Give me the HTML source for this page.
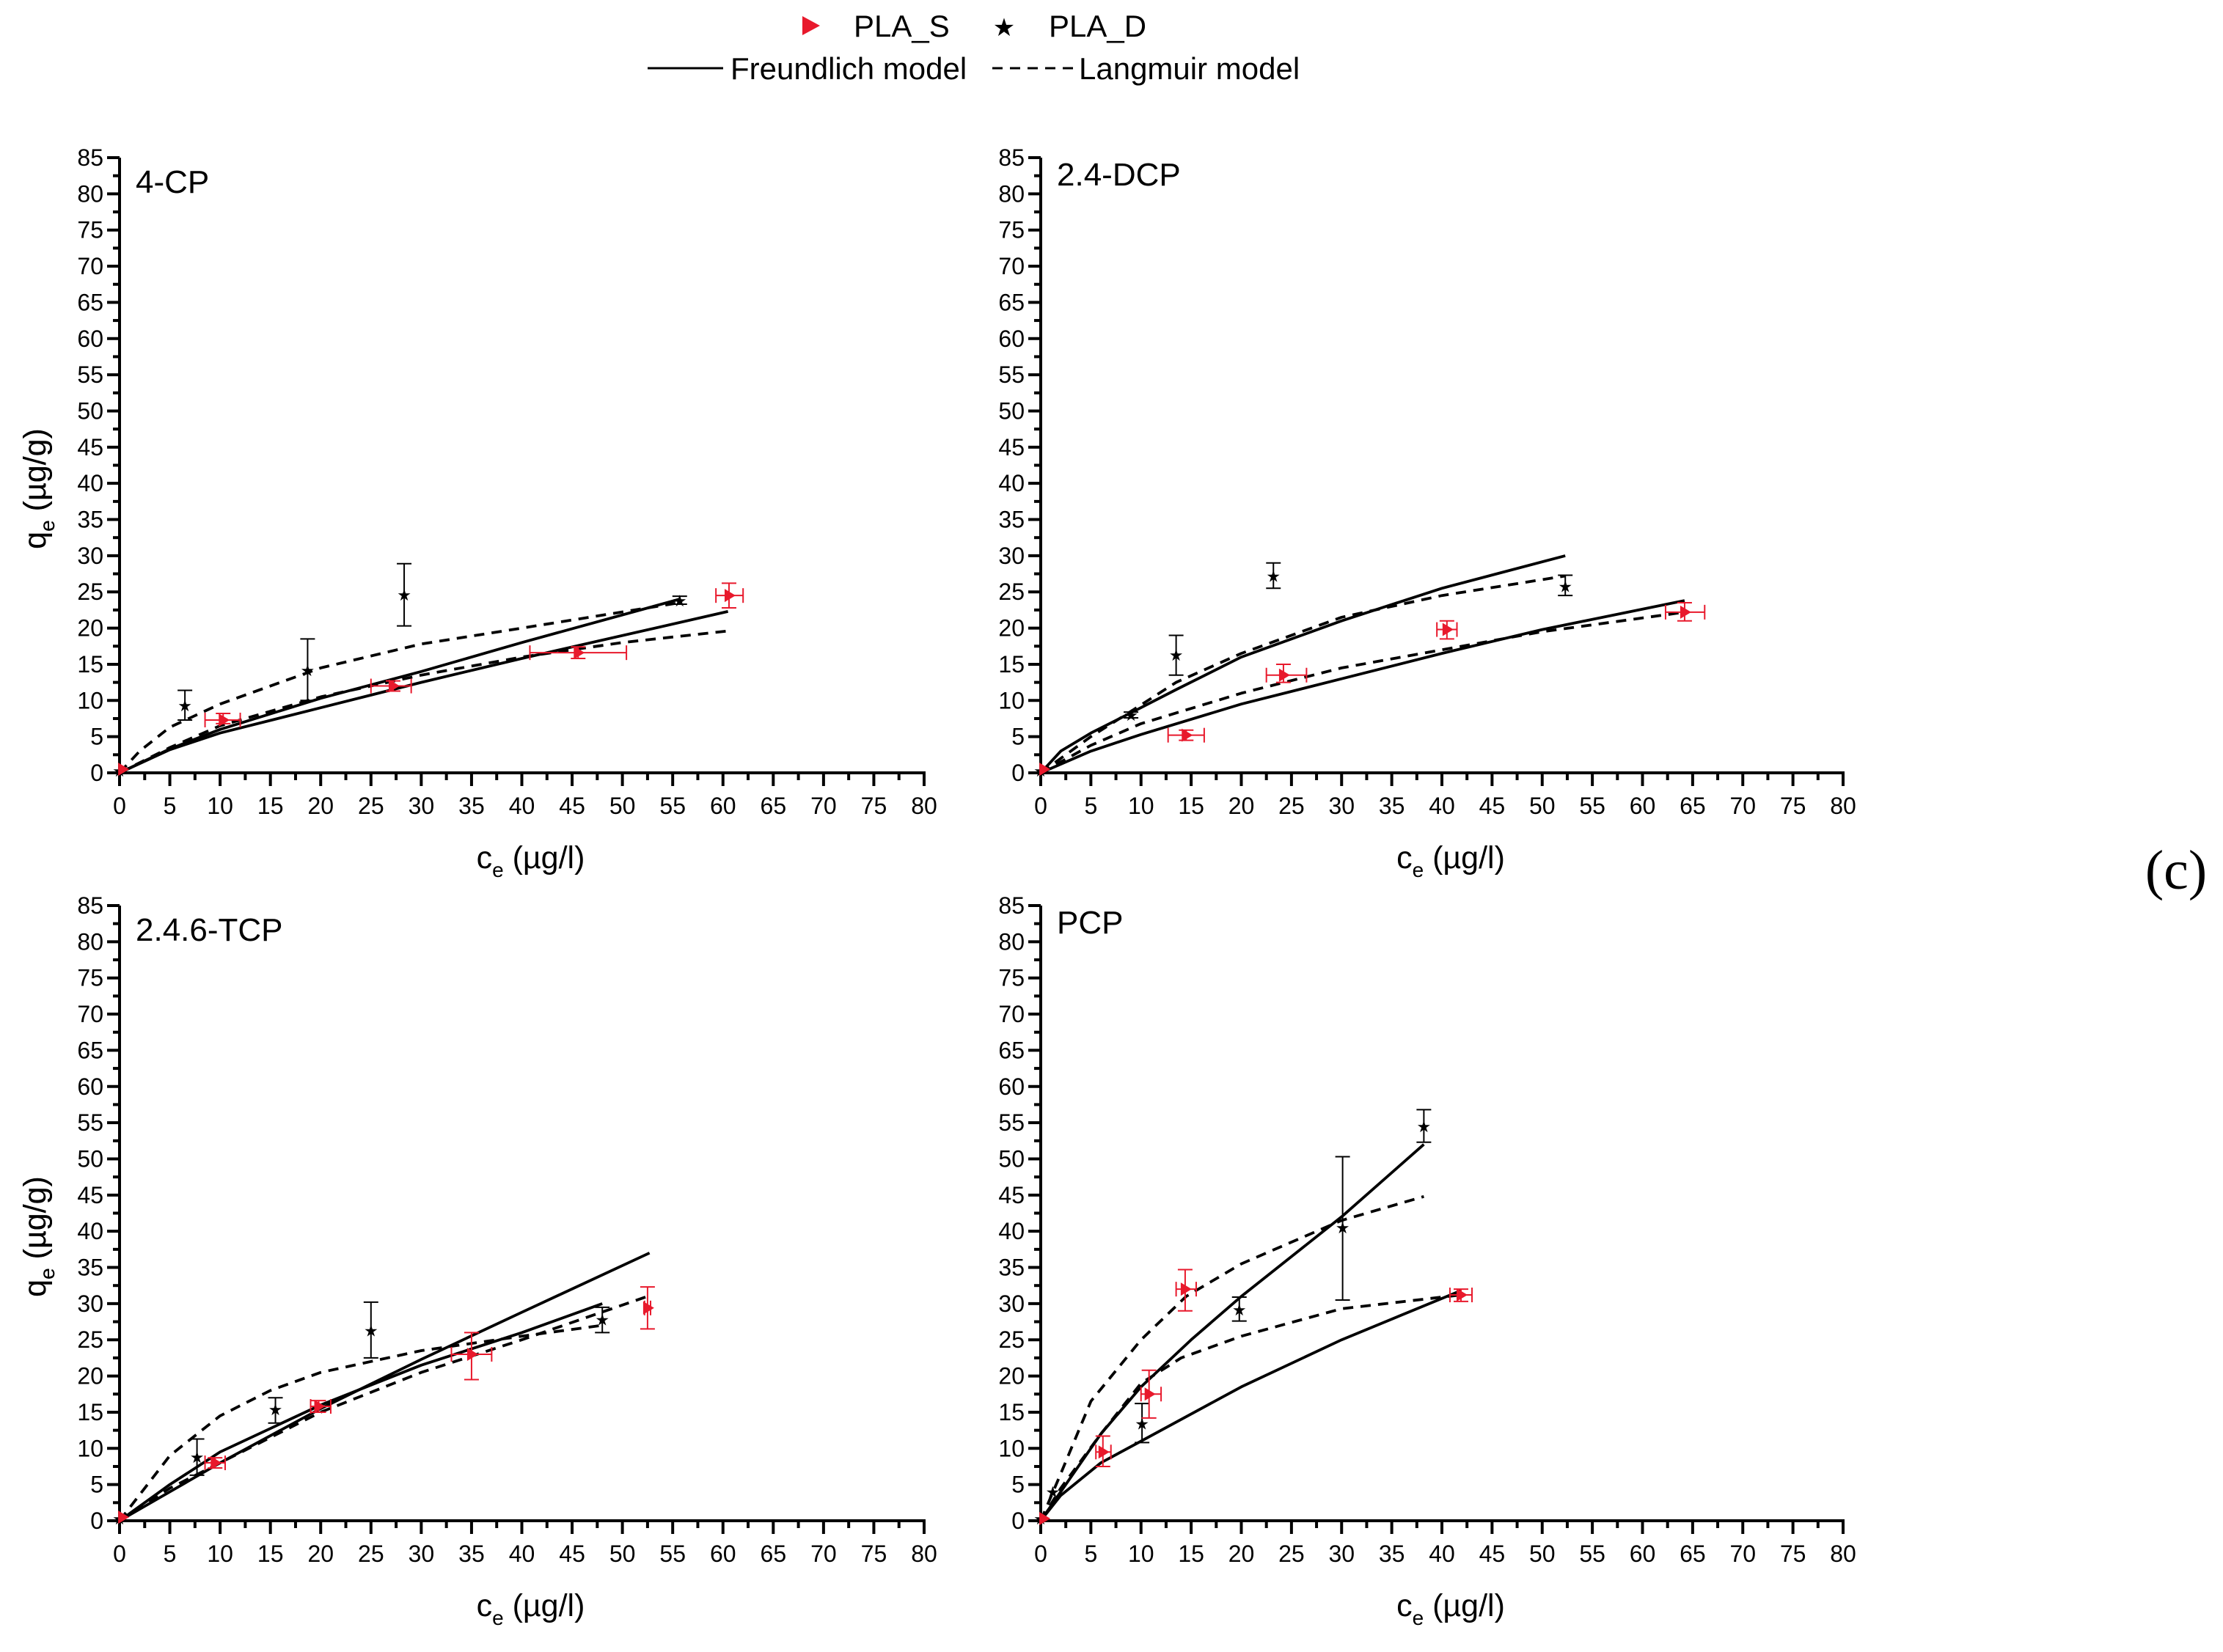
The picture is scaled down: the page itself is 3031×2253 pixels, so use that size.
<!DOCTYPE html>
<html><head><meta charset="utf-8"><style>
html,body{margin:0;padding:0;background:#fff;}
svg{display:block;font-family:"Liberation Sans",Arial,sans-serif;}
</style></head><body>
<svg id="chart" width="3031" height="2253" viewBox="0 0 3031 2253" xmlns="http://www.w3.org/2000/svg">
<g>
  <polygon points="1094,22 1094,48 1118,35" fill="#e8192c"/>
  <text x="1164" y="50" font-size="42">PLA_S</text>
  <text x="1369" y="49" font-size="34" text-anchor="middle">★</text>
  <text x="1430" y="50" font-size="42">PLA_D</text>
  <line x1="883" y1="93" x2="986" y2="93" stroke="#000" stroke-width="3"/>
  <text x="996" y="108" font-size="42">Freundlich model</text>
  <line x1="1353" y1="93" x2="1463" y2="93" stroke="#000" stroke-width="3" stroke-dasharray="14,10"/>
  <text x="1471" y="108" font-size="42">Langmuir model</text>
</g>
<text x="2967" y="1212" font-size="76" text-anchor="middle" font-family="Liberation Serif, serif">(c)</text>
</svg>
<script>
// ---- data ----
const panelNames = ["4-CP","2.4-DCP","2.4.6-TCP","PCP"];
const xTicks = [0,5,10,15,20,25,30,35,40,45,50,55,60,65,70,75,80];
const yTicks = [0,5,10,15,20,25,30,35,40,45,50,55,60,65,70,75,80,85];

// PLA_D points: x, y, yerr low, yerr high
const dX = [[0,6.5,18.7,28.3,55.7],[0,9,13.5,23.2,52.3],[0,7.7,15.5,25,48],[0,1.2,10.1,19.8,30.1,38.2]];
const dY = [[0.3,9.3,14.2,24.6,23.8],[0.3,8,16.3,27.2,25.8],[0.3,8.8,15.4,26.3,27.8],[0.3,4,13.4,29.2,40.5,54.5]];
const dYlo = [[0.3,7.3,10,20.3,23.3],[0.3,7.6,13.5,25.5,24.5],[0.3,6.3,13.5,22.5,26],[0.3,4,10.8,27.6,30.5,52.3]];
const dYhi = [[0.3,11.4,18.5,28.9,24.4],[0.3,8.4,19,29,27.3],[0.3,11.3,17,30.2,29.5],[0.3,4,16.2,30.9,50.3,56.8]];

// PLA_S points: x, y, xerr lo/hi, yerr lo/hi
const sX = [[0.3,10.3,27.2,45.6,60.6],[0.3,14.5,24.2,40.5,64.2],[0.3,9.5,19.8,35,52.5],[0.3,6.2,10.8,14.4,41.9]];
const sY = [[0.5,7.3,12,16.6,24.5],[0.5,5.2,13.5,19.8,22.2],[0.5,8,15.8,23,29.4],[0.3,9.5,17.5,32,31.2]];
const sXlo = [[0.3,8.5,25,40.8,59.3],[0.3,12.7,22.5,39.5,62.3],[0.3,8.5,19,33,52.2],[0.3,5.5,10,13.5,40.8]];
const sXhi = [[0.3,12,29,50.4,62],[0.3,16.3,26.5,41.5,66.2],[0.3,10.5,21,37,52.8],[0.3,7,12,15.5,43]];
const sYlo = [[0.5,6.8,11.3,15.8,22.8],[0.5,4.5,12.5,18.5,21],[0.5,7.3,15,19.5,26.5],[0.3,7.5,14.2,29,30.3]];
const sYhi = [[0.5,8.2,12.7,17.4,26.2],[0.5,5.9,15,21,23.5],[0.5,8.7,16.6,26,32.3],[0.3,11.7,20.8,34.7,32]];

// model curves
const fDx = [[0,5,10,20,30,40,55.7],[0,2,5,9,13.5,20,30,40,52.3],[0,5,10,20,30,40,48],[0,2,6,10,15,20,30,38.2]];
const fDy = [[0,3.3,6,10.3,14,18,24],[0,3,5.5,8.3,11.5,16,21,25.5,30],[0,5,9.5,16,21.5,26,30],[0,4,12,18.5,25,31,42,52]];
const fSx = [[0,5,10,20,30,40,60.5],[0,5,10,20,30,40,50,64.2],[0,5,10,20,30,40,52.7],[0,2,6,10,20,30,41.9]];
const fSy = [[0,3.2,5.5,9,12.5,15.8,22.3],[0,3,5.3,9.5,13,16.5,19.8,23.8],[0,4,8,15.5,22.3,28.8,37],[0,3.5,8,11,18.5,25,31.8]];
const lDx = [[0,2,5,10,20,30,40,55.7],[0,5,9,13.5,20,30,40,52.3],[0,5,10,15,20,25,30,40,48],[0,2,5,10,14.5,20,30,38.2]];
const lDy = [[0,3,6.3,9.5,14.5,17.8,20,23.5],[0,5,8.5,12.5,16.5,21.5,24.5,27.2],[0,9,14.5,18,20.5,22,23.5,25.5,27],[0,6.5,16.5,25,31,35.5,41.5,44.8]];
const lSx = [[0,5,10,20,30,40,50,60.5],[0,5,10,20,30,40,50,64.2],[0,5,10,20,30,40,52.5],[0,2,6,10,14,20,30,41.9]];
const lSy = [[0,3.5,6.5,10.5,13.5,16,18,19.6],[0,3.8,6.8,11,14.5,17,19.5,22.2],[0,4.5,8,15,20.5,25,31],[0,4.5,12,19,22.5,25.5,29.3,31.2]];

// ---- layout ----
const boxes = [
  {x0:163,x1:1260,y0:1054,y1:215},
  {x0:1419,x1:2513,y0:1054,y1:215},
  {x0:163,x1:1260,y0:2074,y1:1235},
  {x0:1419,x1:2513,y0:2074,y1:1235}
];
const NS="http://www.w3.org/2000/svg";
const svg=document.getElementById('chart');
function mk(tag,attrs,parent){const e=document.createElementNS(NS,tag);for(const k in attrs)e.setAttribute(k,attrs[k]);(parent||svg).appendChild(e);return e;}

boxes.forEach((b,p)=>{
  const sx=v=>b.x0+(b.x1-b.x0)*v/80;
  const sy=v=>b.y0+(b.y1-b.y0)*v/85;
  const g=mk('g',{});
  
  
  const ax=mk('line',{x1:b.x0,y1:b.y0,x2:b.x1+2,y2:b.y0,stroke:'#000','stroke-width':4},g);
  
  
  const ay=mk('line',{x1:b.x0,y1:b.y0+2,x2:b.x0,y2:b.y1,stroke:'#000','stroke-width':4},g);
  
  
  xTicks.forEach((t,i)=>{
    const X=sx(t);
    mk('line',{x1:X,y1:b.y0,x2:X,y2:b.y0+18,stroke:'#000','stroke-width':4},g);
    if(i<xTicks.length-1){const m=sx(t+2.5);mk('line',{x1:m,y1:b.y0,x2:m,y2:b.y0+10,stroke:'#000','stroke-width':4},g);}
    const tl=mk('text',{x:X,y:b.y0+56,'font-size':32,'text-anchor':'middle'},g);tl.textContent=t;
    
    
  });
  yTicks.forEach((t,i)=>{
    const Y=sy(t);
    mk('line',{x1:b.x0-17,y1:Y,x2:b.x0,y2:Y,stroke:'#000','stroke-width':4},g);
    if(i<yTicks.length-1){const m=sy(t+2.5);mk('line',{x1:b.x0-9,y1:m,x2:b.x0,y2:m,stroke:'#000','stroke-width':4},g);}
    const tl=mk('text',{x:b.x0-22,y:Y+11,'font-size':32,'text-anchor':'end'},g);tl.textContent=t;
    
    
  });
  const xt=mk('text',{x:(b.x0+b.x1)/2+12,y:b.y0+130,'font-size':43,'text-anchor':'middle'},g);
  xt.innerHTML='c<tspan font-size="28" dy="12">e</tspan><tspan dy="-12"> (µg/l)</tspan>';
  
  
  const cy=(b.y0+b.y1)/2+32;
  const yt=mk('text',{x:0,y:0,'font-size':43,'text-anchor':'middle',transform:`translate(62,${cy}) rotate(-90)`},g);
  yt.innerHTML='q<tspan font-size="28" dy="12">e</tspan><tspan dy="-12"> (µg/g)</tspan>';
  
  
  const pt=mk('text',{x:b.x0+22,y:b.y1+(p%2?38:48),'font-size':44},g);pt.textContent=panelNames[p];
  
  
  const line=(xs,ys,dash,name)=>{
    const d=xs.map((x,i)=>(i?'L':'M')+sx(x).toFixed(1)+','+sy(ys[i]).toFixed(1)).join(' ');
    const e=mk('path',{d:d,fill:'none',stroke:'#000','stroke-width':3.8,'stroke-linejoin':'round'},g);
    if(dash)e.setAttribute('stroke-dasharray','14,10');
    
    
  };
  line(fDx[p],fDy[p],false,'freundlich-curve-pla-d');
  line(fSx[p],fSy[p],false,'freundlich-curve-pla-s');
  line(lDx[p],lDy[p],true,'langmuir-curve-pla-d');
  line(lSx[p],lSy[p],true,'langmuir-curve-pla-s');
  dX[p].forEach((x,i)=>{
    const X=sx(x),Y=sy(dY[p][i]),lo=sy(dYlo[p][i]),hi=sy(dYhi[p][i]);
    if(Math.abs(lo-hi)>3){
      mk('line',{x1:X,y1:lo,x2:X,y2:hi,stroke:'#000','stroke-width':2},g);
      mk('line',{x1:X-10,y1:lo,x2:X+10,y2:lo,stroke:'#000','stroke-width':2},g);
      mk('line',{x1:X-10,y1:hi,x2:X+10,y2:hi,stroke:'#000','stroke-width':2},g);
    }
    const s=mk('text',{x:X,y:Y+8,'font-size':22,'text-anchor':'middle'},g);s.textContent='★';
    
    
  });
  sX[p].forEach((x,i)=>{
    const X=sx(x),Y=sy(sY[p][i]);
    const xl=sx(sXlo[p][i]),xh=sx(sXhi[p][i]),yl=sy(sYlo[p][i]),yh=sy(sYhi[p][i]);
    const c='#e8192c';
    if(xh-xl>3){
      mk('line',{x1:xl,y1:Y,x2:xh,y2:Y,stroke:c,'stroke-width':2},g);
      mk('line',{x1:xl,y1:Y-10,x2:xl,y2:Y+10,stroke:c,'stroke-width':2},g);
      mk('line',{x1:xh,y1:Y-10,x2:xh,y2:Y+10,stroke:c,'stroke-width':2},g);
    }
    if(yl-yh>3){
      mk('line',{x1:X,y1:yl,x2:X,y2:yh,stroke:c,'stroke-width':2},g);
      mk('line',{x1:X-10,y1:yl,x2:X+10,y2:yl,stroke:c,'stroke-width':2},g);
      mk('line',{x1:X-10,y1:yh,x2:X+10,y2:yh,stroke:c,'stroke-width':2},g);
    }
    const t=mk('polygon',{points:`${X-6},${Y-9} ${X-6},${Y+9} ${X+9},${Y}`,fill:c},g);
    
    
  });
});
</script>
</body></html>
